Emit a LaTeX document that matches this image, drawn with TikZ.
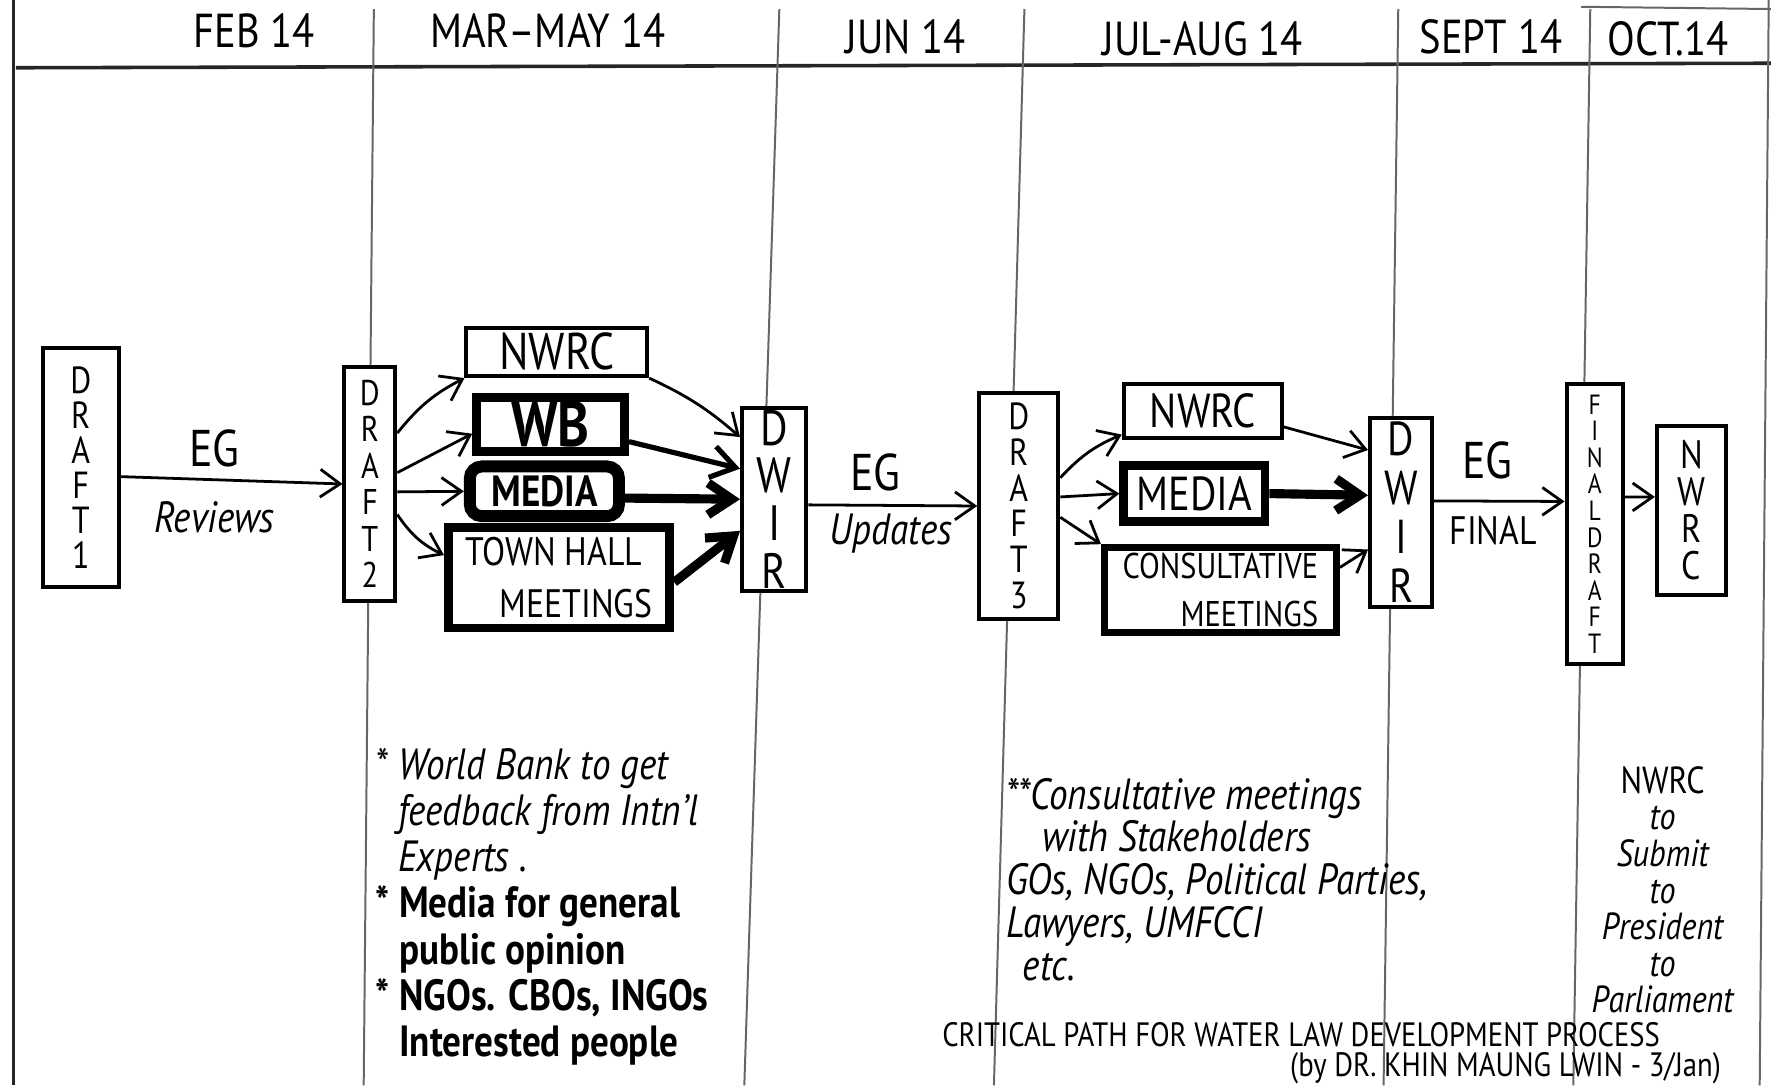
\documentclass[tikz,border=0pt]{standalone}
\usepackage{fontspec}
\setmainfont{PT Sans}[FakeStretch=0.85]
\usetikzlibrary{arrows.meta}
\begin{document}
\begin{tikzpicture}[x=0.01cm,y=-0.01cm,
  box/.style={draw,line width=1pt,fill=white,inner sep=0pt,align=center},
  heavybox/.style={box,line width=2.2pt},
  arr/.style={-{Straight Barb[length=5pt,width=7pt]},line width=0.7pt},
  midarr/.style={-{Straight Barb[length=6pt,width=8pt]},line width=1.3pt},
  fatarr/.style={-{Straight Barb[length=6pt,width=8pt]},line width=2.3pt},
  sep/.style={line width=0.5pt,black!60},
  frame/.style={line width=0.9pt,black!85},
  head/.style={font=\fontsize{12}{14}\selectfont},
  lab/.style={font=\fontsize{13}{15}\selectfont},
  cur/.style={font=\itshape\fontsize{11}{13}\selectfont},
  note/.style={inner sep=0pt}
]
\useasboundingbox (0,0) rectangle (1568,961);

% frame and column separators
\draw[frame] (12,0) -- (12,961);
\draw[frame] (14,60) -- (1568,56);
\draw[sep] (1400,6) -- (1568,8);
\draw[sep] (1566,0) -- (1558,961);
\draw[sep] (331,8) -- (322,961);
\draw[sep] (690,8) -- (659,961);
\draw[sep] (907,8) -- (880,961);
\draw[sep] (1238,8) -- (1225,961);
\draw[sep] (1408,8) -- (1393,961);

% column headings
\node[head] (hfeb) at (225,27) {FEB 14};
\node[head] (hmar) at (485,27) {MAR–MAY 14};
\node[head] (hjun) at (802,33) {JUN 14};
\node[head] (hjul) at (1065,34) {JUL-AUG 14};
\node[head] (hsep) at (1320,33) {SEPT 14};
\node[head] (hoct) at (1477,34) {OCT.14};

% boxes
\node[box,minimum width=0.67cm,minimum height=2.12cm,font=\fontsize{9.5}{8.8}\selectfont] (d1) at (71.5,414) {D\\R\\A\\F\\T\\1};
\node[box,minimum width=0.45cm,minimum height=2.07cm,font=\fontsize{9}{9.2}\selectfont] (d2) at (327.5,428.5) {D\\R\\A\\F\\T\\2};
\node[box,minimum width=1.60cm,minimum height=0.43cm,font=\fontsize{13}{15}\selectfont] (nw1) at (493,311.5) {NWRC};
\node[heavybox,minimum width=1.31cm,minimum height=0.48cm,font=\bfseries\fontsize{16}{18}\selectfont] (wb) at (487.5,376) {WB};
\node[heavybox,line width=3pt,rounded corners=3pt,minimum width=1.32cm,minimum height=0.44cm,font=\bfseries\fontsize{11}{13}\selectfont] (me1) at (482,435) {MEDIA};
\node[heavybox,minimum width=1.96cm,minimum height=0.89cm,align=left,font=\fontsize{10}{13}\selectfont] (th) at (495,511.5) {TOWN HALL\\\hspace*{0.3cm}MEETINGS};
\node[box,minimum width=0.57cm,minimum height=1.62cm,font=\fontsize{12.5}{12}\selectfont] (dw1) at (685.5,442) {D\\W\\I\\R};
\node[box,minimum width=0.70cm,minimum height=2.00cm,font=\fontsize{9.5}{9}\selectfont] (d3) at (902,448) {D\\R\\A\\F\\T\\3};
\node[box,minimum width=1.40cm,minimum height=0.48cm,font=\fontsize{12}{14}\selectfont] (nw2) at (1065,364) {NWRC};
\node[heavybox,minimum width=1.25cm,minimum height=0.50cm,font=\fontsize{12}{14}\selectfont] (me2) at (1057.5,437) {MEDIA};
\node[box,line width=1.8pt,minimum width=2.05cm,minimum height=0.75cm,align=right,font=\fontsize{9}{12}\selectfont] (cm) at (1080.5,522.5) {CONSULTATIVE\\MEETINGS};
\node[box,minimum width=0.55cm,minimum height=1.67cm,font=\fontsize{12}{12.4}\selectfont] (dw2) at (1240.5,453.5) {D\\W\\I\\R};
\node[box,minimum width=0.50cm,minimum height=2.48cm,font=\fontsize{7}{6.7}\selectfont] (fd) at (1412,464) {F\\I\\N\\A\\L\\D\\R\\A\\F\\T};
\node[box,minimum width=0.61cm,minimum height=1.50cm,font=\fontsize{10}{9.3}\selectfont] (nw3) at (1497.5,452) {N\\W\\R\\C};

% connectors
\draw[arr] ([yshift=-0.08cm]d1.east) -- (d2.west);
\node[lab] (eg1) at (190,397) {EG};
\node[cur] (rev) at (190,458) {Reviews};

\draw[arr] ([yshift=0.45cm]d2.east) to[bend left=12] (nw1.south west);
\draw[arr] ([yshift=0.10cm]d2.east) -- ([yshift=-0.08cm]wb.west);
\draw[arr] ([yshift=-0.07cm]d2.east) -- (me1.west);
\draw[arr] ([yshift=-0.27cm]d2.east) to[bend right=15] ([yshift=0.2cm]th.west);

\draw[arr] (nw1.south east) to[bend left=8] ([yshift=0.55cm]dw1.west);
\draw[midarr] ([yshift=-0.15cm]wb.east) -- ([yshift=0.27cm]dw1.west);
\draw[fatarr] ([yshift=-0.06cm]me1.east) -- (dw1.west);
\draw[fatarr] ([yshift=-0.04cm]th.east) -- ([yshift=-0.28cm]dw1.west);

\draw[arr] ([yshift=-0.05cm]dw1.east) -- (d3.west);
\node[lab] (eg2) at (775,418) {EG};
\node[cur] (upd) at (789,472) {Updates};

\draw[arr] ([yshift=0.25cm]d3.east) to[bend left=12] ([yshift=0.05cm]nw2.south west);
\draw[arr] ([yshift=0.08cm]d3.east) -- (me2.west);
\draw[arr] ([yshift=-0.10cm]d3.east) -- (cm.north west);

\draw[arr] ([yshift=-0.14cm]nw2.east) -- ([yshift=0.55cm]dw2.west);
\draw[fatarr] (me2.east) -- ([yshift=0.15cm]dw2.west);
\draw[arr] ([yshift=0.2cm]cm.east) -- ([yshift=-0.33cm]dw2.west);

\draw[arr] ([yshift=0.10cm]dw2.east) -- ([yshift=0.2cm]fd.west);
\node[lab] (eg3) at (1317,408) {EG};
\node[lab,font=\fontsize{10}{12}\selectfont] (fin) at (1322,470) {FINAL};

\draw[arr] ([yshift=0.24cm]fd.east) -- ([yshift=0.12cm]nw3.west);

% notes
\node[note,anchor=north west,align=left,font=\itshape\fontsize{11}{11.6}\selectfont] (n1) at (332,662)
{* World Bank to get\\
\phantom{* }feedback from Intn'l\\
\phantom{* }Experts .\\
\upshape\bfseries * Media for general\\
\upshape\bfseries \phantom{* }public opinion\\
\upshape\bfseries * NGOs. CBOs, INGOs\\
\upshape\bfseries \phantom{* }Interested people};

\node[note,anchor=north west,align=left,font=\itshape\fontsize{11}{10.8}\selectfont] (n2) at (890,688)
{**Consultative meetings\\
\hspace*{0.32cm}with Stakeholders\\
GOs, NGOs, Political Parties,\\
Lawyers, UMFCCI\\
\hspace*{0.15cm}etc.};

\node[note,anchor=north,align=center,font=\itshape\fontsize{9.5}{9.2}\selectfont] (n3) at (1472,678)
{\upshape NWRC\\to\\Submit\\to\\President\\to\\Parliament};

\node[note,font=\fontsize{8.5}{10}\selectfont] (title) at (1152,916) {CRITICAL PATH FOR WATER LAW DEVELOPMENT PROCESS};
\node[note,font=\fontsize{8.5}{10}\selectfont] (auth) at (1333,946) {(by DR. KHIN MAUNG LWIN - 3/Jan)};
\end{tikzpicture}
\end{document}
